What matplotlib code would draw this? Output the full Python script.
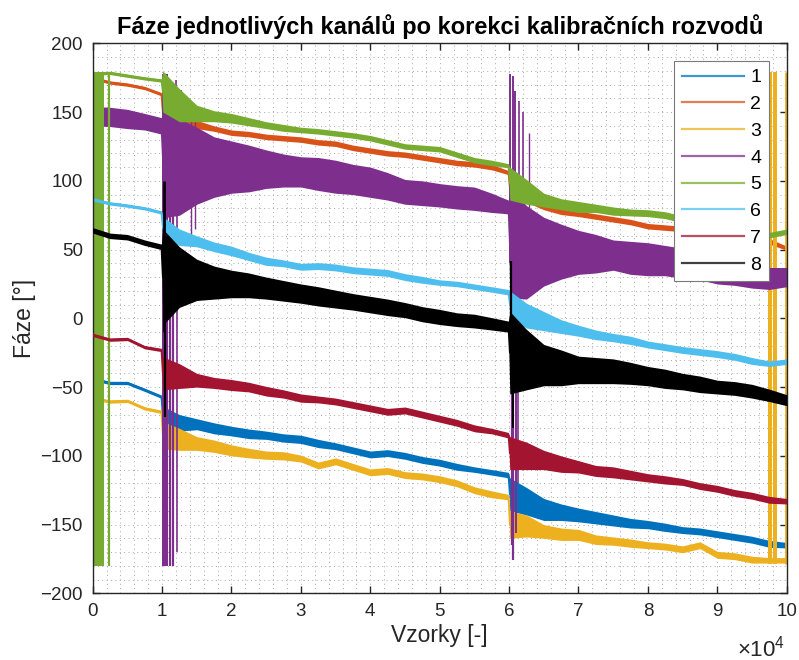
import matplotlib
matplotlib.use("Agg")
import matplotlib.pyplot as plt
import numpy as np
from matplotlib.lines import Line2D
from matplotlib.ticker import MultipleLocator, FuncFormatter

plt.rcParams["font.family"] = ["Liberation Sans", "DejaVu Sans"]
plt.rcParams["mathtext.fontset"] = "custom"
plt.rcParams["mathtext.rm"] = "Liberation Sans"

# sample index of each knot
samples = [0, 2500, 5000, 7500, 9900, 10100, 12500, 15000, 17500, 20000,
           22500, 25000, 27500, 30000, 32500, 35000, 37500, 40000, 42500, 45000,
           47500, 50000, 52500, 55000, 57500, 59900, 60100, 62500, 65000, 67500,
           70000, 72500, 75000, 77500, 80000, 82500, 85000, 87500, 90000, 92500,
           95000, 97500, 100000]

# channel phases [deg] (mean level) and noise half-width at each knot
ch1 = [-44, -47, -47, -52, -57, -72, -76, -77, -80, -82,
       -84, -85, -87, -88, -91, -93, -96, -99, -98, -100,
       -103, -105, -108, -110, -112, -114, -128, -133, -139, -141,
       -143, -145, -147, -149, -150, -152, -154, -155, -157, -159,
       -161, -164, -165]
ch1_noise = [1.2, 1.2, 1.2, 1.2, 1.2, 8, 6, 4, 4, 3.5,
             3.5, 3, 3, 3, 3, 2.5, 2.5, 2.5, 2.5, 2.5,
             2.5, 2.5, 2.5, 2, 2, 2, 12, 10, 8, 6,
             5, 4.5, 4, 3.5, 3, 3, 2.5, 2.5, 2.5, 2.5,
             2.5, 2.5, 2]

ch2 = [175, 171.5, 170, 167.5, 163, 150, 145, 141, 138, 135,
       134, 132, 131, 130, 128, 127, 124, 122, 120, 119,
       117, 115, 113, 112, 110, 106, 95, 88, 82, 78,
       76, 74, 72, 70, 67, 66, 65, 63, 62, 60,
       58, 56, 51]
ch2_noise = [1.2, 1.2, 1.2, 1.2, 1.2, 4, 4, 3, 2, 2,
             2, 2, 2, 2, 2, 2, 2, 2, 2, 2,
             2, 2, 2, 2, 2, 1.5, 4, 3.5, 3, 2.5,
             2, 2, 2, 2, 2, 2, 2, 2, 2, 2,
             2, 2, 1.5]

ch3 = [-58, -60.5, -60, -65.5, -68, -85, -88, -91, -93, -96,
       -98, -99.5, -100, -102, -107, -104, -108, -112, -111, -114,
       -115, -117, -120, -125, -128, -130, -150, -151, -155, -157,
       -157.5, -161, -162, -163.5, -165, -166, -168, -165, -172, -173,
       -175.5, -176, -176]
ch3_noise = [1.2, 1.2, 1.2, 1.2, 1.2, 10, 8, 5, 4.5, 4,
             3.5, 3, 3, 2.5, 2.5, 2.5, 2.5, 2.5, 2.5, 2.5,
             2.5, 2.5, 2.5, 2.5, 2.5, 2, 10, 8, 5, 4.5,
             4, 3.5, 3, 3, 2.5, 2.5, 2.5, 2.5, 2.5, 2.5,
             2.5, 2, 2]

ch4 = [147, 146.5, 145, 143, 140, 118, 110, 111, 110, 110,
       109, 108.5, 107.5, 106.5, 105, 103, 101, 99, 96, 92,
       91, 89.5, 88, 87, 84, 81, 55, 48, 48.5, 48.5,
       48, 47, 46, 44, 43, 42, 40, 38, 35, 33,
       31, 29, 30]
ch4_noise = [7, 7, 7, 6, 6, 45, 35, 28, 22, 19,
             17, 14, 12, 11, 12, 12, 11, 11, 10, 9,
             9, 8.5, 8.5, 8.5, 7, 5, 40, 34, 25, 20,
             16, 14, 11, 12, 12, 11, 11, 10, 10, 9,
             9, 8, 7]

ch5 = [178, 178.5, 176.5, 174.5, 173, 165, 155, 149, 147, 145.5,
       143, 140.5, 138.5, 137, 136, 134.5, 133, 131, 128, 125,
       124, 123, 119, 115, 113, 111, 98, 92, 86, 83,
       81, 80, 78, 77, 76.5, 75, 72, 70, 68, 66,
       63, 60.5, 63]
ch5_noise = [1.2, 1.2, 1.2, 1.2, 1.2, 15, 12, 6, 4, 3.5,
             3, 2.5, 2.5, 2, 2, 2, 2, 2, 2, 2,
             2, 2, 2, 2, 2, 1.5, 12, 9, 5, 4,
             4, 3, 3, 2.5, 2.5, 2.5, 2.5, 2.5, 2.5, 2.5,
             2.5, 2, 2]

ch6 = [86.5, 83.6, 82, 80, 77, 66, 59, 56, 52, 49,
       45, 41.5, 40, 37.5, 38, 37, 35, 34, 33, 30,
       28, 26, 25, 23, 21, 19, 10, 2, -2, -6,
       -9, -12, -14, -16, -19, -21, -23, -24.5, -26, -28,
       -31, -33, -31.5]
ch6_noise = [1.2, 1.2, 1.2, 1.2, 1.2, 8, 6, 4, 3.5, 3.5,
             3, 3, 2.5, 2.5, 2.5, 2.5, 2.5, 2.5, 2.5, 2.5,
             2.5, 2, 2, 2, 2, 2, 10, 9, 7, 5,
             4, 3.5, 3, 3, 2.5, 2.5, 2.5, 2.5, 2.5, 2.5,
             2.5, 2, 2]

ch7 = [-12, -15.5, -15, -21, -23, -40, -42, -45, -47, -48.5,
       -50, -53, -55, -58, -59, -60.5, -63, -65.5, -68, -67,
       -70, -73, -76, -80, -82, -85, -98, -100, -103, -106,
       -108, -111, -112, -114, -116, -117.5, -119, -122, -124, -127,
       -129, -132, -133]
ch7_noise = [1.2, 1.2, 1.2, 1.2, 1.2, 12, 9, 5, 4, 4,
             3.5, 3.5, 3, 3, 2.5, 2.5, 2.5, 2.5, 2.5, 2.5,
             2.5, 2.5, 2.5, 2.5, 2, 2, 12, 10, 7, 6,
             4.5, 4, 4, 3.5, 3, 3, 2.5, 2.5, 2.5, 2.5,
             2.5, 2.5, 2]

ch8 = [64, 60, 59, 55, 52, 30, 30, 28, 26, 25,
       24, 22, 20, 18, 16, 14, 12, 10, 8, 6,
       3, 1, -1, -2, -4, -6, -25, -30, -34, -36,
       -37.5, -38, -38.5, -40, -42, -44, -46, -48, -50, -51,
       -53, -56, -59.5]
ch8_noise = [2, 2, 2, 2, 2, 35, 22, 15, 12, 10,
             9, 8, 7.5, 7, 7, 6.5, 6, 6, 6, 5.5,
             5.5, 5.5, 5, 5, 4.5, 4, 30, 22, 15, 13,
             10, 9.5, 9, 8, 7, 7, 6, 6, 5, 5,
             5, 4.5, 4]

# +-180 deg phase wrapping blocks (channel, start, end, low, high)
wrap_ch = [5, 4, 3, 3]
wrap_x0 = [40, 10050, 97280, 98020]
wrap_x1 = [1630, 10900, 97840, 98600]
wrap_lo = [-180, -180, -179, -179]
wrap_hi = [179, 178, 179, 179]

# single-sample spikes (channel, sample, low, high, line width)
spike_ch = [5, 3,
            4, 4, 4, 4, 4, 4, 4, 4, 4,
            4, 4, 4, 4, 4, 4, 4, 4, 4, 4,
            8, 8, 8, 8, 3, 1]
spike_x = [2350, 99900,
           11200, 11600, 12200, 12000, 12700, 13200, 13500, 14200, 14800,
           60200, 60500, 60900, 61400, 62000, 62800, 60350, 60600, 61000, 61300,
           10250, 10450, 60300, 60550, 60400, 60450]
spike_lo = [-180, -179,
            -180, -180, -170, 90, 85, 80, 80, 60, 65,
            40, 30, 40, 45, 50, 60, -165, -176, -156, -120,
            -10, -72, -20, -80, -165, -160]
spike_hi = [179, 179,
            168, 165, 150, 173, 166, 163, 160, 150, 145,
            178, 176, 165, 158, 150, 135, 20, 10, 15, 20,
            100, 30, 42, -10, -130, -120]
spike_lw = [1.6, 2.0,
            1.6, 1.6, 1.2, 1.2, 1.2, 1.2, 1.2, 1.0, 1.0,
            1.4, 1.4, 1.4, 1.2, 1.2, 1.0, 1.6, 1.6, 1.4, 1.2,
            2.0, 1.6, 1.6, 1.4, 1.2, 1.2]

channels = [ch1, ch2, ch3, ch4, ch5, ch6, ch7, ch8]
noise = [ch1_noise, ch2_noise, ch3_noise, ch4_noise,
         ch5_noise, ch6_noise, ch7_noise, ch8_noise]
labels = ["1", "2", "3", "4", "5", "6", "7", "8"]
colors = ["#0072BD", "#D95319", "#EDB120", "#7E2F8E",
          "#77AC30", "#4DBEEE", "#A2142F", "#000000"]

fig = plt.figure(figsize=(7.99, 6.60), dpi=100)
ax = fig.add_axes([0.116, 0.101, 0.8686, 0.8333])

x = np.array(samples, dtype=float)
for i, (y, s) in enumerate(zip(channels, noise)):
    n = i + 1
    z = 2 + i * 0.1
    y = np.array(y, dtype=float)
    s = np.array(s, dtype=float)
    ax.fill_between(x, y - s, y + s, color=colors[i], lw=0, zorder=z)
    ax.plot(x, y, color=colors[i], lw=1.2, zorder=z)
    for c, x0, x1, lo, hi in zip(wrap_ch, wrap_x0, wrap_x1, wrap_lo, wrap_hi):
        if c == n:
            ax.fill_between([x0, x1], lo, hi, color=colors[i], lw=0, zorder=z)
    for c, xs, lo, hi, w in zip(spike_ch, spike_x, spike_lo, spike_hi, spike_lw):
        if c == n:
            ax.vlines(xs, lo, hi, color=colors[i], lw=w, zorder=z)

ax.set_xlim(0, 100000)
ax.set_ylim(-200, 200)
ax.xaxis.set_major_locator(MultipleLocator(10000))
ax.xaxis.set_minor_locator(MultipleLocator(2000))
ax.yaxis.set_major_locator(MultipleLocator(50))
ax.yaxis.set_minor_locator(MultipleLocator(10))
ax.xaxis.set_major_formatter(FuncFormatter(lambda v, p: f"{v / 10000:g}"))
ax.yaxis.set_major_formatter(FuncFormatter(lambda v, p: f"{v:g}".replace("-", "\u2212")))

ax.set_axisbelow(True)
ax.grid(which="both", color="#a8a8a8", lw=0.7, ls=(0, (1, 3.5)))
ax.tick_params(which="major", direction="in", length=5, width=1.0, top=True, right=True,
               labelsize=13.5, colors="#262626", pad=7)
ax.tick_params(which="minor", length=0)
for sp in ax.spines.values():
    sp.set_color("#262626")
    sp.set_linewidth(1.0)

ax.set_title("Fáze jednotlivých kanálů po korekci kalibračních rozvodů",
             fontsize=17, fontweight="bold", pad=7)
ax.set_xlabel("Vzorky [-]", fontsize=16.5, color="#262626", labelpad=3)
ax.set_ylabel("Fáze [°]", fontsize=16.5, color="#262626", labelpad=3)
fig.text(0.983, 0.006, r"$\times10^{4}$", ha="right", va="baseline", fontsize=16, color="#262626")

handles = [Line2D([], [], color=c, lw=1.6, alpha=0.75) for c in colors]
leg = ax.legend(handles, labels, loc="upper right", bbox_to_anchor=(0.9745, 0.968),
                borderaxespad=0, fontsize=14, handlelength=3.2, handletextpad=0.3,
                labelspacing=0.47, borderpad=0.4, fancybox=False, framealpha=1,
                edgecolor="#7a7a7a")
leg.get_frame().set_linewidth(0.8)
leg.set_zorder(10)

fig.savefig("out.png", dpi=100)
